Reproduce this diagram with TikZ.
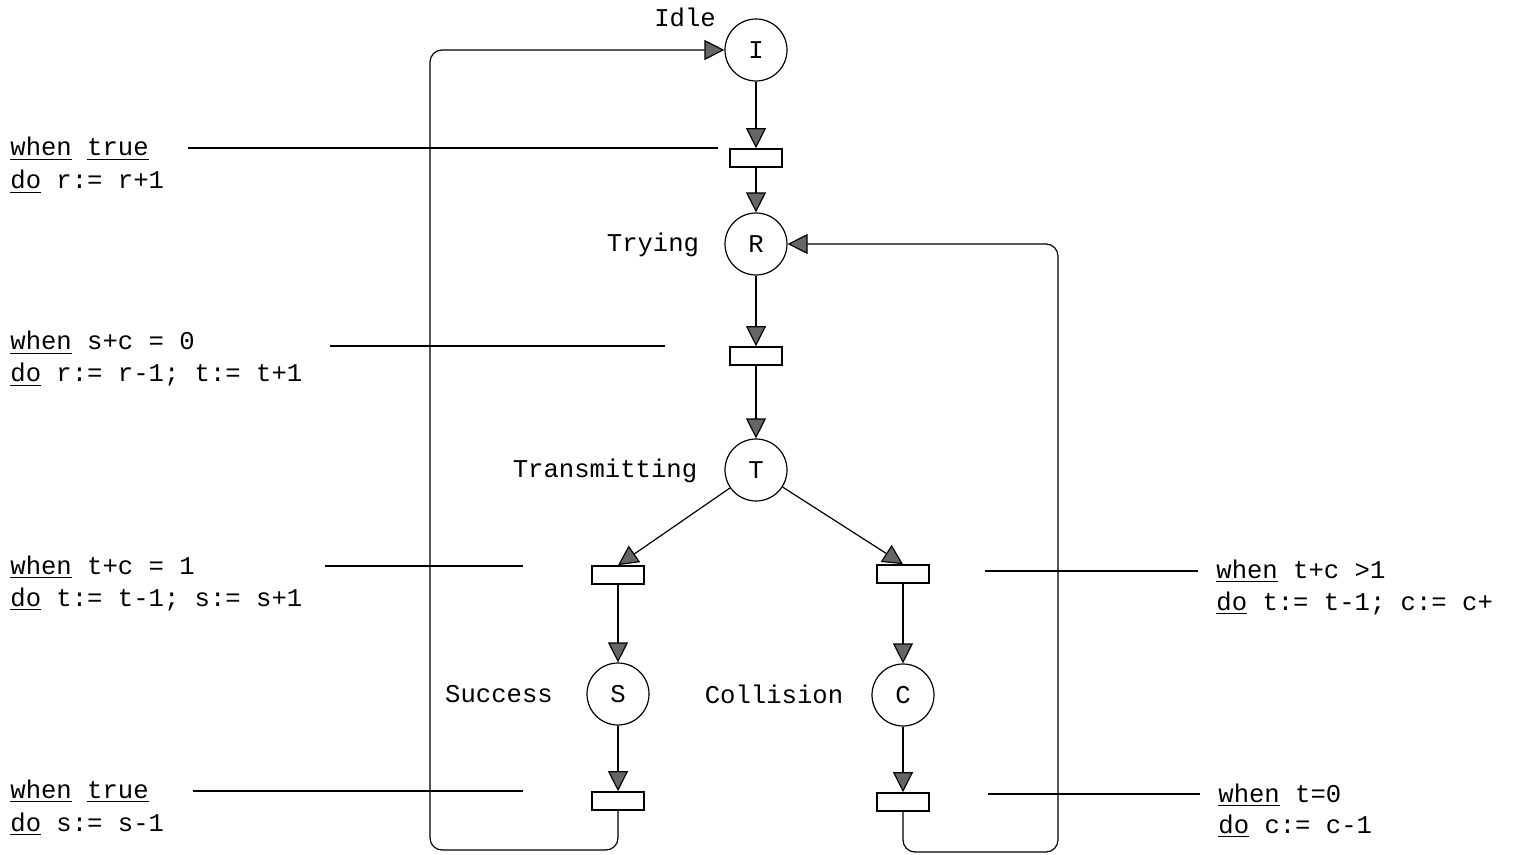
\documentclass[tikz,border=0pt]{standalone}
\usepackage{fontspec}
\setmonofont{Liberation Mono}
\usetikzlibrary{arrows.meta}
\newcommand{\ul}[1]{\underline{#1}}
\begin{document}
\begin{tikzpicture}[x=0.5pt,y=-0.5pt,
  font=\ttfamily\fontsize{12.8}{15}\selectfont,
  place/.style={circle, draw, minimum size=31pt, inner sep=0pt, line width=0.6pt},
  trans/.style={rectangle, draw, minimum width=26pt, minimum height=9pt, inner sep=0pt, line width=0.8pt},
  arc/.style={line width=0.6pt, -{Triangle[length=10pt,width=10pt,fill=black!60]}},
  guard/.style={line width=0.6pt},
  lbl/.style={anchor=base, inner sep=0pt},
  txt/.style={anchor=base west, inner sep=0pt}]
\useasboundingbox (0,0) rectangle (1515,855);

% places
\node[place] (I) at (756,50) {I};
\node[place] (R) at (756,244) {R};
\node[place] (T) at (756,470) {T};
\node[place] (S) at (618,694) {S};
\node[place] (C) at (903,695) {C};

% place labels
\node[lbl] (lI) at (685,27) {Idle};
\node[lbl] (lR) at (653,252) {Trying};
\node[lbl] (lT) at (605,478) {Transmitting};
\node[lbl] (lS) at (499,702) {Success};
\node[lbl] (lC) at (774,703) {Collision};

% transitions
\node[trans] (t1) at (756,158) {};
\node[trans] (t2) at (756,356) {};
\node[trans] (t3) at (618,575) {};
\node[trans] (t4) at (903,574) {};
\node[trans] (t5) at (618,801) {};
\node[trans] (t6) at (903,802) {};

% arcs
\draw[arc] (I) -- (t1);
\draw[arc] (t1) -- (R);
\draw[arc] (R) -- (t2);
\draw[arc] (t2) -- (T);
\draw[arc] (T) -- (t3.north);
\draw[arc] (T) -- (t4.north);
\draw[arc] (t3) -- (S);
\draw[arc] (t4) -- (C);
\draw[arc] (S) -- (t5);
\draw[arc] (C) -- (t6);

\coordinate (cl) at (430,850);
\coordinate (cr) at (1058,852);
\draw[arc, rounded corners=6pt] (t5.south) |- (cl) |- (I.west);
\draw[arc, rounded corners=6pt] (t6.south) |- (cr) |- (R.east);

% guard lines
\coordinate (g1a) at (188,148); \coordinate (g1b) at (718,148);
\coordinate (g2a) at (330,346); \coordinate (g2b) at (665,346);
\coordinate (g3a) at (325,566); \coordinate (g3b) at (523,566);
\coordinate (g4a) at (193,791); \coordinate (g4b) at (523,791);
\coordinate (g5a) at (985,571); \coordinate (g5b) at (1198,571);
\coordinate (g6a) at (988,794); \coordinate (g6b) at (1200,794);
\draw[guard] (g1a) -- (g1b);
\draw[guard] (g2a) -- (g2b);
\draw[guard] (g3a) -- (g3b);
\draw[guard] (g4a) -- (g4b);
\draw[guard] (g5a) -- (g5b);
\draw[guard] (g6a) -- (g6b);

% annotations
\node[txt] (a1w) at (10,156) {\ul{when} \ul{true}};
\node[txt] (a1d) at (10,189) {\ul{do} r:= r+1};
\node[txt] (a2w) at (10,350) {\ul{when} s+c = 0};
\node[txt] (a2d) at (10,382) {\ul{do} r:= r-1; t:= t+1};
\node[txt] (a3w) at (10,574) {\ul{when} t+c = 1};
\node[txt] (a3d) at (10,606) {\ul{do} t:= t-1; s:= s+1};
\node[txt] (a4w) at (10,798) {\ul{when} \ul{true}};
\node[txt] (a4d) at (10,831) {\ul{do} s:= s-1};
\node[txt] (a5w) at (1216,578) {\ul{when} t+c >1};
\node[txt] (a5d) at (1216,610) {\ul{do} t:= t-1; c:= c+};
\node[txt] (a6w) at (1218,802) {\ul{when} t=0};
\node[txt] (a6d) at (1218,833) {\ul{do} c:= c-1};
\end{tikzpicture}
\end{document}
